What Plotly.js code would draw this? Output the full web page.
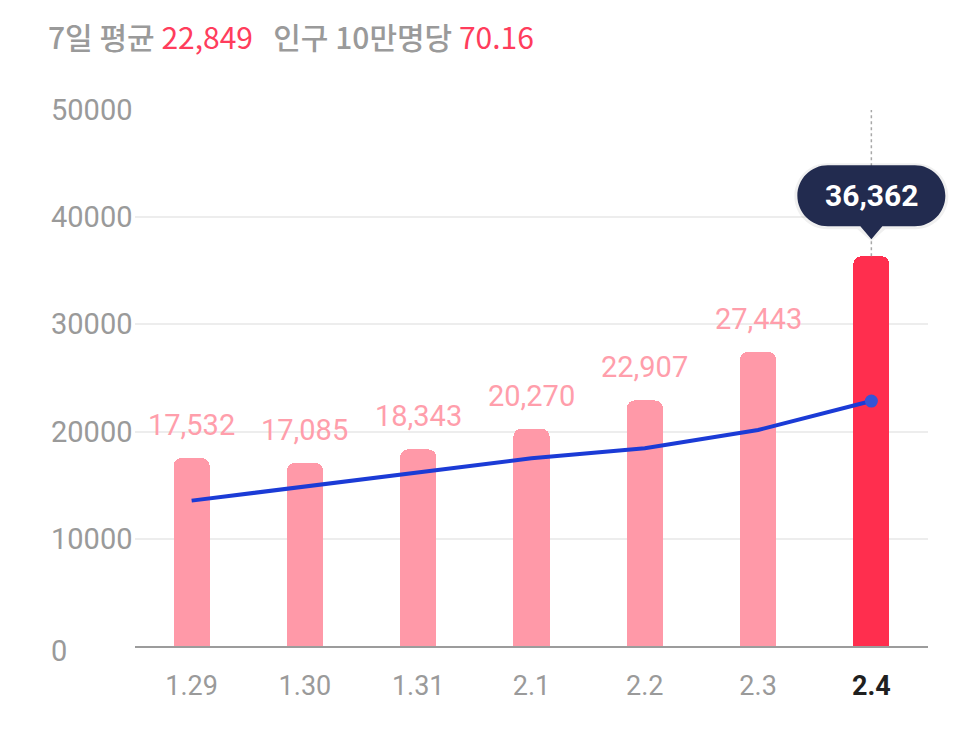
<!DOCTYPE html>
<html><head><meta charset="utf-8">
<script src="https://cdn.plot.ly/plotly-3.0.1.min.js"></script>
<style>html,body{margin:0;padding:0;background:#fff}#chart{width:966px;height:750px}</style>
</head><body><div id="chart"></div>
<script>
const dates = ['1.29','1.30','1.31','2.1','2.2','2.3','2.4'];
const daily = [17532, 17085, 18343, 20270, 22907, 27443, 36362];
const avg7 = [13560, 14860, 16200, 17510, 18440, 20150, 22849];
const yTicks = [0, 10000, 20000, 30000, 40000, 50000];
const avgLabel = '22,849';
const per100k = '70.16';

const FONT = 'Roboto, "Noto Sans CJK KR", sans-serif';
const last = daily.length - 1;
const xs = dates.map((d, i) => i);
const xRange = [-0.5, xs.length - 0.5];
const fmt = v => v.toLocaleString('en-US');

const barColors = daily.map((v, i) => i === last ? '#FF2E4E' : '#FF99A8');
const tickText = dates.map((d, i) => i === last ? '<b><span style="color:#1f1f1f">' + d + '</span></b>' : d);

const traces = [
  {type:'bar', x: xs, y: daily, marker:{color: barColors, cornerradius: 8}, width: 0.32, hoverinfo:'skip'},
  {type:'scatter', mode:'lines', x: xs, y: avg7, line:{color:'#1B3BD6', width:4}, hoverinfo:'skip'},
  {type:'scatter', mode:'markers', x:[xs[last]], y:[avg7[last]], marker:{color:'#3554D6', size:13}, hoverinfo:'skip'}
];

const annotations = [];
daily.forEach((v, i) => {
  if (i === last) return;
  annotations.push({x: i, y: v, xref:'x', yref:'y', text: fmt(v), showarrow:false,
    yshift: 33, font:{family: FONT, size: 29, color:'#FF9EAB'}});
});
yTicks.forEach(t => {
  annotations.push({x: 0, xref:'paper', y: t, yref:'y', text: String(t), showarrow:false,
    xanchor:'left', xshift:-86, yshift: t === 0 ? -5 : 0, font:{family: FONT, size: 29, color:'#9A9A9A'}});
});
// tooltip text
annotations.push({x: xs[last], y: daily[last], xref:'x', yref:'y', text: '<b>' + fmt(daily[last]) + '</b>',
  showarrow:false, yshift: 61, font:{family: FONT, size: 30, color:'#FFFFFF'}});

// pill path in pixels relative to anchor (bar top)
function pillPath(w, yb, yt, tip, half) {
  const r = (yt - yb) / 2, k = 0.5523 * r, cy = (yb + yt) / 2, ax = w - r;
  return `M ${-ax},${yb} L ${-half},${yb} L 0,${tip} L ${half},${yb} L ${ax},${yb} ` +
    `C ${ax + k},${yb} ${w},${cy - k} ${w},${cy} C ${w},${cy + k} ${ax + k},${yt} ${ax},${yt} ` +
    `L ${-ax},${yt} C ${-ax - k},${yt} ${-w},${cy + k} ${-w},${cy} C ${-w},${cy - k} ${-ax - k},${yb} ${-ax},${yb} Z`;
}
const lastPaperX = (xs[last] - xRange[0]) / (xRange[1] - xRange[0]);

const shapes = [
  {type:'line', xref:'x', yref:'y', x0: xs[last], x1: xs[last], y0: daily[last], y1: 50000,
    line:{color:'#A8A8A8', width:1.5, dash:'dot'}},
  {type:'path', xref:'paper', yref:'y', xsizemode:'pixel', ysizemode:'pixel', xanchor: lastPaperX, yanchor: daily[last],
    path: pillPath(77, 27, 93, 15, 14), fillcolor:'rgba(0,0,0,0.06)', line:{width:0}},
  {type:'path', xref:'paper', yref:'y', xsizemode:'pixel', ysizemode:'pixel', xanchor: lastPaperX, yanchor: daily[last],
    path: pillPath(74, 30, 91, 17, 11), fillcolor:'#222B4F', line:{width:0}}
];

const layout = {
  width: 966, height: 750,
  margin:{l:135, r:38, t:110, b:104},
  paper_bgcolor:'#fff', plot_bgcolor:'#fff',
  showlegend:false,
  title:{text: '7일 평균 <span style="color:#FF3D5C;font-weight:normal">' + avgLabel + '</span>   인구 10만명당 <span style="color:#FF3D5C;font-weight:normal">' + per100k + '</span>',
    x: 48/966, xanchor:'left', xref:'container', y: 1 - 38/750, yanchor:'middle', yref:'container',
    font:{family: '"Noto Sans CJK KR", sans-serif', size: 30, color:'#9A9A9A', weight: 500}},
  xaxis:{range: xRange, tickmode:'array', tickvals: xs, ticktext: tickText, ticks:'',
    showgrid:false, zeroline:false, showline:true, linecolor:'#9C9C9C', linewidth:2,
    tickfont:{family: FONT, size: 27, color:'#9A9A9A'}, ticklabelstandoff: 15, fixedrange:true},
  yaxis:{range:[0, 50000], tickvals: yTicks, showticklabels:false, ticks:'',
    showgrid:true, gridcolor:'#EDEDED', gridwidth:2, zeroline:false, fixedrange:true},
  annotations, shapes, bargap: 0
};

Plotly.newPlot('chart', traces, layout, {displayModeBar:false, staticPlot:true});
</script></body></html>
